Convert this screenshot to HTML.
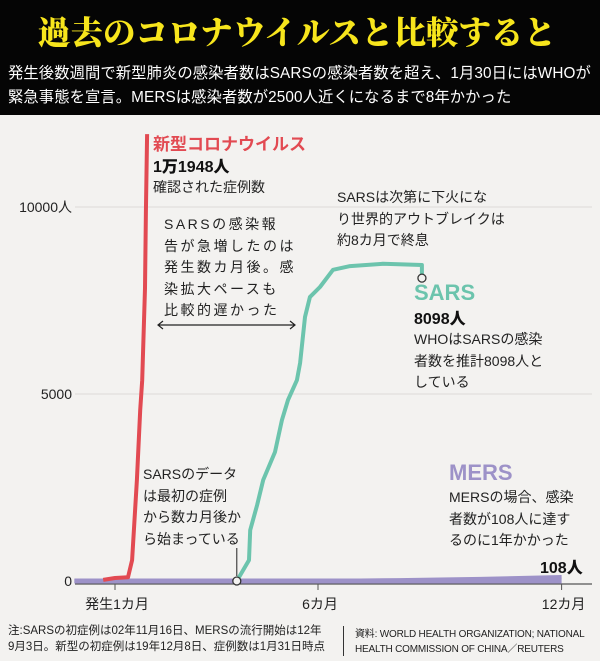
<!DOCTYPE html>
<html><head><meta charset="utf-8">
<style>
body{margin:0;width:600px;height:661px;overflow:hidden;background:#f3f2f0;font-family:"Liberation Sans","Noto Sans CJK JP",sans-serif;}
.abs{position:absolute;white-space:nowrap;}
#hdr{position:absolute;left:0;top:0;width:600px;height:115px;background:#050505;}
.t{font-size:14px;color:#222;line-height:21.5px;}
</style></head><body>
<div id="hdr">
 <div class="abs" style="left:38px;top:8px;font-family:'Noto Serif CJK SC','Noto Serif CJK JP',serif;font-weight:900;font-size:32.5px;color:#f7e51c;letter-spacing:0;">過去のコロナウイルスと比較すると</div>
 <div class="abs" style="left:8px;top:62px;font-size:15.3px;color:#fff;line-height:24px;letter-spacing:0.1px;">発生後数週間で新型肺炎の感染者数はSARSの感染者数を超え、1月30日にはWHOが<br>緊急事態を宣言。MERSは感染者数が2500人近くになるまで8年かかった</div>
</div>
<svg id="chart" width="600" height="661" style="position:absolute;left:0;top:0"></svg>

<div class="abs" style="left:153px;top:130px;font-size:17px;font-weight:bold;color:#e24a52;">新型コロナウイルス</div>
<div class="abs" style="left:153px;top:153px;font-size:16px;font-weight:900;color:#111;">1万1948人</div>
<div class="abs t" style="left:153px;top:177px;">確認された症例数</div>
<div class="abs t" style="left:164px;top:214px;letter-spacing:2.5px;">SARSの感染報<br>告が急増したのは<br>発生数カ月後。感<br>染拡大ペースも<br>比較的遅かった</div>
<div class="abs t" style="left:337px;top:187px;">SARSは次第に下火にな<br>り世界的アウトブレイクは<br>約8カ月で終息</div>
<div class="abs" style="left:414px;top:280px;font-size:22px;font-weight:bold;color:#6cc4ad;">SARS</div>
<div class="abs" style="left:414px;top:305px;font-size:16px;font-weight:900;color:#111;">8098人</div>
<div class="abs t" style="left:414px;top:329px;">WHOはSARSの感染<br>者数を推計8098人と<br>している</div>
<div class="abs" style="left:449px;top:460px;font-size:22px;font-weight:bold;color:#9d92c8;">MERS</div>
<div class="abs t" style="left:449px;top:487px;">MERSの場合、感染<br>者数が108人に達す<br>るのに1年かかった</div>
<div class="abs" style="left:540px;top:554px;font-size:16px;font-weight:900;color:#111;">108人</div>
<div class="abs t" style="left:143px;top:464px;">SARSのデータ<br>は最初の症例<br>から数カ月後か<br>ら始まっている</div>

<div class="abs" style="left:8px;top:623px;font-size:11.5px;color:#222;line-height:16px;">注:SARSの初症例は02年11月16日、MERSの流行開始は12年<br>9月3日。新型の初症例は19年12月8日、症例数は1月31日時点</div>
<div class="abs" style="left:343px;top:626px;width:1px;height:30px;background:#333;"></div>
<div class="abs" style="left:355px;top:627px;font-size:10px;color:#222;line-height:15px;letter-spacing:-0.2px;">資料: WORLD HEALTH ORGANIZATION; NATIONAL<br>HEALTH COMMISSION OF CHINA／REUTERS</div>

<script>
const covidMonths=[0.71,1.0,1.32,1.42,1.54,1.62,1.67,1.74,1.76,1.79];
const covidValues=[30,80,100,560,2700,4570,5370,7830,9870,11948];
const sarsMonths=[4.0,4.3,4.33,4.5,4.65,4.94,5.11,5.26,5.48,5.56,5.68,5.8,6.05,6.37,6.79,7.6,8.56,8.56];
const sarsValues=[0,560,1360,2030,2700,3450,4300,4840,5370,5830,7060,7590,7860,8320,8420,8480,8450,8098];
const mersMonths=[0,6.5,8,10,12];
const mersValues=[0,5,25,55,108];
const yTicks=[0,5000,10000];
const yTickLabels=["0","5000","10000人"];
const xTicks=[1,6,12];
const xTickLabels=["発生1カ月","6カ月","12カ月"];

const NS="http://www.w3.org/2000/svg";
const svg=document.getElementById('chart');
const X=m=>115+(m-1)*40.6;
const Y=v=>581-v*0.0374;
function mk(tag,attrs){const e=document.createElementNS(NS,tag);for(const k in attrs)e.setAttribute(k,attrs[k]);svg.appendChild(e);return e;}

yTicks.forEach((t,i)=>{
  if(t>0){const g=mk('line',{x1:75,x2:592,y1:Y(t),y2:Y(t),stroke:'#dcdbd9','stroke-width':1});
  
  }
  const tx=mk('text',{x:72,y:Y(t)+5,'text-anchor':'end','font-size':14,fill:'#222','font-family':'Liberation Sans, Noto Sans CJK JP, sans-serif'});
  tx.textContent=yTickLabels[i];
  
  
});
const ax=mk('line',{x1:75,x2:592,y1:584,y2:584,stroke:'#555','stroke-width':1.2});


xTicks.forEach((t,i)=>{
  const tk=mk('line',{x1:X(t),x2:X(t),y1:584,y2:590,stroke:'#555'});
  
  
  const tx=mk('text',{x:X(t)+2,y:609,'text-anchor':'middle','font-size':14,fill:'#222','font-family':'Liberation Sans, Noto Sans CJK JP, sans-serif'});
  tx.textContent=xTickLabels[i];
  
  
});
function path(ms,vs,color,w,name){
  const d=ms.map((m,i)=>(i?'L':'M')+X(m).toFixed(1)+','+Y(vs[i]).toFixed(1)).join(' ');
  const p=mk('path',{d:d,fill:'none',stroke:color,'stroke-width':w,'stroke-linejoin':'round'});
  
  
}
path([0,12],[0,0],'#9d92c8',5,'mers-baseline');
path(mersMonths,mersValues,'#9d92c8',4,'mers-line');
path(covidMonths,covidValues,'#e24a52',4,'covid-line');
path(sarsMonths,sarsValues,'#6cc4ad',4,'sars-line');

const ld=mk('line',{x1:X(4),x2:X(4),y1:548,y2:576,stroke:'#222'});


const c1=mk('circle',{cx:X(sarsMonths[0]),cy:Y(sarsValues[0]),r:4,fill:'#f3f2f0',stroke:'#333','stroke-width':1.3});


const n=sarsMonths.length-1;
const c2=mk('circle',{cx:X(sarsMonths[n]),cy:Y(sarsValues[n]),r:4,fill:'#f3f2f0',stroke:'#333','stroke-width':1.3});


const ar=mk('path',{d:'M158,325 L295,325 M163,321 L158,325 L163,329 M290,321 L295,325 L290,329',stroke:'#222',fill:'none','stroke-width':1.2});


</script>
</body></html>
